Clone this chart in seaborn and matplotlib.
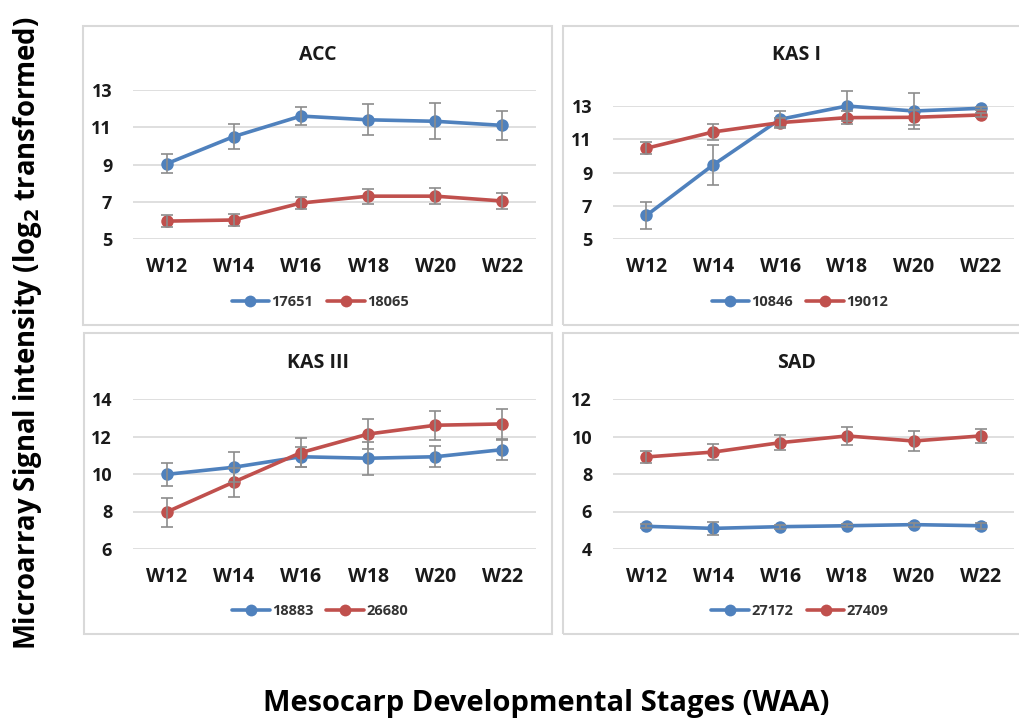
import matplotlib
matplotlib.use("Agg")
import matplotlib.pyplot as plt
import matplotlib.patches as mpatches
from matplotlib.lines import Line2D
import seaborn as sns
import pandas as pd
import numpy as np

stages = ["W12", "W14", "W16", "W18", "W20", "W22"]

acc_ids = ["17651", "18065"]
acc_17651 = [9.04, 10.50, 11.60, 11.40, 11.32, 11.10]
acc_17651_err = [0.50, 0.66, 0.50, 0.83, 0.96, 0.77]
acc_18065 = [5.96, 6.02, 6.93, 7.30, 7.30, 7.04]
acc_18065_err = [0.33, 0.32, 0.32, 0.40, 0.43, 0.42]

kas1_ids = ["10846", "19012"]
kas1_10846 = [6.42, 9.46, 12.20, 13.00, 12.70, 12.86]
kas1_10846_err = [0.80, 1.22, 0.50, 0.90, 1.10, 0.10]
kas1_19012 = [10.46, 11.44, 12.00, 12.30, 12.32, 12.46]
kas1_19012_err = [0.37, 0.47, 0.27, 0.40, 0.45, 0.10]

kas3_ids = ["18883", "26680"]
kas3_18883 = [9.98, 10.36, 10.92, 10.84, 10.92, 11.30]
kas3_18883_err = [0.60, 0.80, 0.53, 0.88, 0.55, 0.53]
kas3_26680 = [7.97, 9.57, 11.14, 12.13, 12.60, 12.67]
kas3_26680_err = [0.77, 0.77, 0.77, 0.78, 0.77, 0.80]

sad_ids = ["27172", "27409"]
sad_27172 = [5.21, 5.10, 5.19, 5.24, 5.30, 5.24]
sad_27172_err = [0.10, 0.35, 0.10, 0.08, 0.10, 0.15]
sad_27409 = [8.91, 9.17, 9.67, 10.03, 9.76, 10.03]
sad_27409_err = [0.31, 0.43, 0.39, 0.50, 0.54, 0.38]

BLUE = "#4F81BD"
RED = "#C0504D"
W, H = 1020, 718

sns.set_theme(style="white")
plt.rcParams["font.family"] = ["Open Sans", "DejaVu Sans"]
plt.rcParams["font.weight"] = "bold"

fig = plt.figure(figsize=(W / 100, H / 100), dpi=100)

def fx(px):
    return px / W

def fy(py):
    return 1 - py / H

panels = [
    dict(title="ACC", ids=acc_ids, vals=[acc_17651, acc_18065], errs=[acc_17651_err, acc_18065_err],
         ylim=(5, 13), ticks=[5, 7, 9, 11, 13], ax=(133, 536, 90, 239), frame=(83, 552, 26, 325),
         tpos=(318, 55), lpos=(320, 302)),
    dict(title="KAS I", ids=kas1_ids, vals=[kas1_10846, kas1_19012], errs=[kas1_10846_err, kas1_19012_err],
         ylim=(5, 13), ticks=[5, 7, 9, 11, 13], ax=(613, 1014, 106, 239), frame=(563, 1030, 26, 325),
         tpos=(797, 55), lpos=(800, 302)),
    dict(title="KAS III", ids=kas3_ids, vals=[kas3_18883, kas3_26680], errs=[kas3_18883_err, kas3_26680_err],
         ylim=(6, 14), ticks=[6, 8, 10, 12, 14], ax=(133, 536, 399, 549), frame=(84, 552, 333, 634),
         tpos=(318, 363), lpos=(320, 611)),
    dict(title="SAD", ids=sad_ids, vals=[sad_27172, sad_27409], errs=[sad_27172_err, sad_27409_err],
         ylim=(4, 12), ticks=[4, 6, 8, 10, 12], ax=(613, 1014, 399, 549), frame=(563, 1030, 333, 634),
         tpos=(797, 363), lpos=(800, 611)),
]

for p in panels:
    x0, x1, yt, yb = p["frame"]
    fig.patches.append(mpatches.Rectangle((fx(x0), fy(yb)), fx(x1 - x0), (yb - yt) / H,
                                          transform=fig.transFigure, fill=False,
                                          edgecolor="#D9D9D9", linewidth=1.5, zorder=0))
    l, r, t, b = p["ax"]
    ax = fig.add_axes([fx(l), fy(b), fx(r - l), (b - t) / H])
    rows = []
    for sid, v in zip(p["ids"], p["vals"]):
        for i, val in enumerate(v):
            rows.append({"x": i, "stage": stages[i], "series": sid, "value": val})
    df = pd.DataFrame(rows)
    xpos = np.arange(len(stages))
    for v, e in zip(p["vals"], p["errs"]):
        ax.errorbar(xpos, v, yerr=e, fmt="none", ecolor="#8C8C8C", elinewidth=1.2,
                    capsize=4, capthick=1.2, zorder=4, clip_on=False)
    sns.lineplot(data=df, x="x", y="value", hue="series", palette=[BLUE, RED],
                 marker="o", markersize=9, markeredgewidth=0, linewidth=2.6,
                 sort=False, legend=False, ax=ax, zorder=3, clip_on=False)
    ax.set_xlim(-0.5, len(stages) - 0.5)
    ax.set_ylim(*p["ylim"])
    ax.set_yticks(p["ticks"])
    ax.set_xticks(xpos)
    ax.set_xticklabels(stages)
    ax.set_xlabel("")
    ax.set_ylabel("")
    ax.grid(axis="y", color="#D9D9D9", linewidth=1.2)
    ax.set_axisbelow(True)
    for sp in ax.spines.values():
        sp.set_visible(False)
    ax.tick_params(axis="x", length=0, pad=13, labelsize=14, labelcolor="#1a1a1a")
    ax.tick_params(axis="y", length=0, pad=15, labelsize=13, labelcolor="#1a1a1a")
    for lab in ax.get_xticklabels() + ax.get_yticklabels():
        lab.set_fontweight("bold")
    ax.patch.set_alpha(0)
    fig.text(fx(p["tpos"][0]), fy(p["tpos"][1]), p["title"], ha="center", va="center",
             fontsize=14, fontweight="bold", color="#1a1a1a")
    handles = [Line2D([0], [0], color=c, marker="o", markersize=8.5, markeredgewidth=0, linewidth=2.6)
               for c in (BLUE, RED)]
    ax.legend(handles, p["ids"], loc="center", bbox_to_anchor=(fx(p["lpos"][0]), fy(p["lpos"][1])),
              bbox_transform=fig.transFigure, ncol=2, frameon=False, handlelength=2.6,
              handletextpad=0.15, columnspacing=0.9, prop={"size": 10.5, "weight": "bold"},
              labelcolor="#333333")

fig.text(fx(28), fy(333), "Microarray Signal intensity (log$_\\mathbf{2}$ transformed)", rotation=90,
         ha="center", va="center", fontsize=19.8, fontweight="bold", color="black")
fig.text(fx(546), fy(703), "Mesocarp Developmental Stages (WAA)", ha="center", va="center",
         fontsize=21, fontweight="bold", color="black")

fig.savefig("out.png", dpi=100)
